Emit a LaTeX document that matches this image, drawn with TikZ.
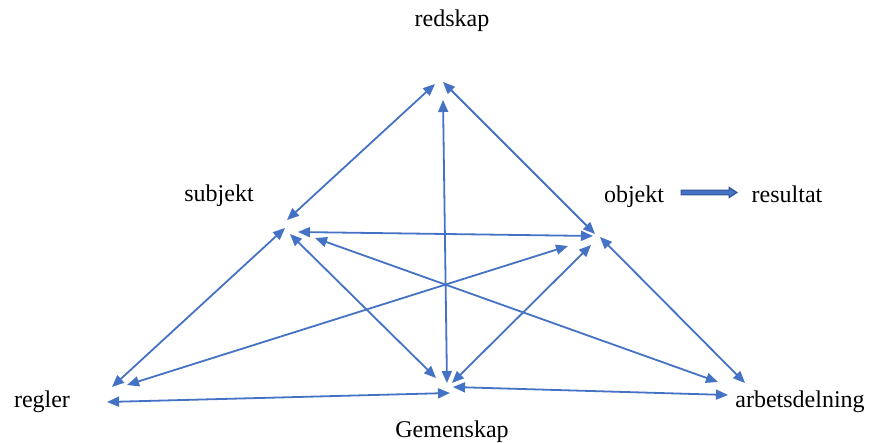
\documentclass[tikz,border=0pt]{standalone}
\usepackage{fontspec}
\setmainfont{Liberation Serif}
\usetikzlibrary{arrows.meta,calc}
\definecolor{lineblue}{HTML}{4472C4}
\definecolor{darkblue}{HTML}{2F5597}
\tikzset{
  lbl/.style={anchor=base, inner sep=0pt, font=\fontsize{24pt}{28pt}\selectfont},
  arr/.style={draw=lineblue, line width=1.8pt,
    {Triangle[length=12pt,width=10pt]}-{Triangle[length=12pt,width=10pt]}},
  fatarr/.style={fill=lineblue, draw=darkblue, line width=1pt, line join=miter}
}
\begin{document}
\begin{tikzpicture}[x=1pt,y=-1pt]
\useasboundingbox (0,0) rectangle (870,443);
% labels
\node[lbl] (redskap) at (452,27) {redskap};
\node[lbl] (subjekt) at (219,202) {subjekt};
\node[lbl] (objekt) at (634,203) {objekt};
\node[lbl] (resultat) at (787,203) {resultat};
\node[lbl] (regler) at (42,407) {regler};
\node[lbl] (gemenskap) at (452,437) {Gemenskap};
\node[lbl] (arbets) at (800,407) {arbetsdelning};
% connector ends
\coordinate (r1) at (435,84);   \coordinate (s1) at (287,220);
\coordinate (r2) at (443,100);  \coordinate (g2) at (447,383);
\coordinate (r3) at (443,82);   \coordinate (o3) at (595,234);
\coordinate (s4) at (298,232);  \coordinate (o4) at (593,236);
\coordinate (s5) at (285,228);  \coordinate (l5) at (112,387);
\coordinate (s6) at (290,234);  \coordinate (g6) at (436,378);
\coordinate (s7) at (315,238);  \coordinate (a7) at (718,382);
\coordinate (o8) at (568,246);  \coordinate (l8) at (127,385);
\coordinate (o9) at (591,245);  \coordinate (g9) at (452,383);
\coordinate (o10) at (600,237); \coordinate (a10) at (745,383);
\coordinate (l11) at (107,402); \coordinate (g11) at (450,393);
\coordinate (g12) at (453,387); \coordinate (a12) at (728,395);
\coordinate (ra1) at (681,192.5); \coordinate (ra2) at (737,192.5);
% connectors
\draw[arr] (r1) -- (s1);
\draw[arr] (r2) -- (g2);
\draw[arr] (r3) -- (o3);
\draw[arr] (s4) -- (o4);
\draw[arr] (s5) -- (l5);
\draw[arr] (s6) -- (g6);
\draw[arr] (s7) -- (a7);
\draw[arr] (o8) -- (l8);
\draw[arr] (o9) -- (g9);
\draw[arr] (o10) -- (a10);
\draw[arr] (l11) -- (g11);
\draw[arr] (g12) -- (a12);
% objekt -> resultat
\filldraw[fatarr] ($(ra1)+(0,-2.3)$) -- ($(ra2)+(-8,-2.3)$) -- ($(ra2)+(-8,-5.3)$)
  -- (ra2) -- ($(ra2)+(-8,5.3)$) -- ($(ra2)+(-8,2.3)$) -- ($(ra1)+(0,2.3)$) -- cycle;
\end{tikzpicture}
\end{document}
